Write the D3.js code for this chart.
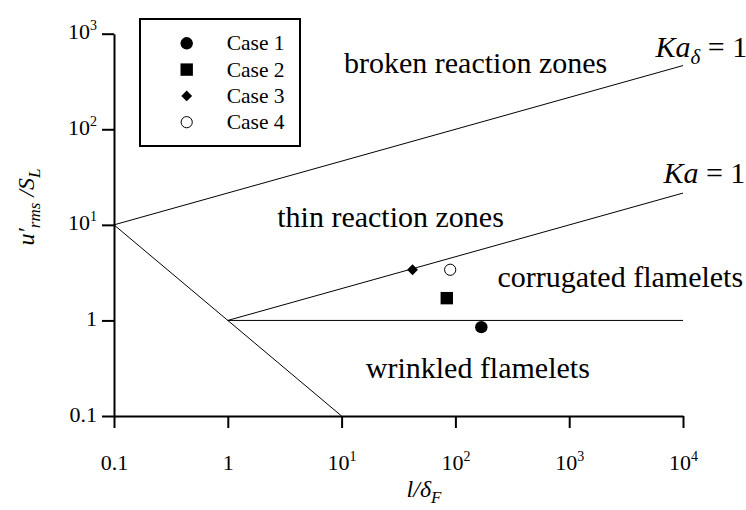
<!DOCTYPE html>
<html>
<head>
<meta charset="utf-8">
<script src="https://cdn.jsdelivr.net/npm/d3@7"></script>
<style>
  body { margin: 0; background: #fff; }
  svg { display: block; font-family: "Liberation Serif", "Times New Roman", serif; }
</style>
</head>
<body>
<div id="chart"></div>
<script>
// tick values
const xTicks = [0.1, 1, 10, 100, 1000, 10000];
const yTicks = [0.1, 1, 10, 100, 1000];

// cases: l/delta_F and u'rms/S_L
const cases = ['Case 1', 'Case 2', 'Case 3', 'Case 4'];
const caseLength = [169, 84, 42, 90];
const caseSpeed = [0.85, 1.71, 3.39, 3.39];
const caseMarker = ['circle', 'square', 'diamond', 'open'];

// regime boundaries (Borghi diagram)
const kaDeltaLine = [[0.1, 10], [10000, 464]];
const kaLine = [[1, 1], [10000, 21.5]];
const reLine = [[0.1, 10], [10, 0.1]];
const unityLine = [[1, 1], [10000, 1]];

// region names and where they sit
const regionNames = ['broken reaction zones', 'thin reaction zones', 'corrugated flamelets', 'wrinkled flamelets'];
const regionX = [10.5, 2.72, 234, 16.3];
const regionY = [390, 9.55, 2.25, 0.252];

const W = 746, H = 510;
const svg = d3.select('#chart').append('svg').attr('width', W).attr('height', H);

const x = d3.scaleLog().domain([0.1, 10000]).range([114, 683]);
const y = d3.scaleLog().domain([0.1, 1000]).range([416, 33.7]);

function tickLabel(sel) {
    sel.each(function (d) {
        const t = d3.select(this);
        t.text(null);
        if (d < 5) {
            t.append('tspan').text(d === 1 ? '1' : '0.1');
        } else {
            t.append('tspan').text('10');
            t.append('tspan').attr('dy', -9).attr('font-size', 14).text(Math.round(Math.log10(d)));
        }
    });
}

const gx = svg.append('g')
    .attr('transform', `translate(0,${y.range()[0]})`)
    .call(d3.axisBottom(x).tickValues(xTicks).tickSize(12).tickSizeOuter(0));
const gy = svg.append('g')
    .attr('transform', `translate(${x.range()[0]},0)`)
    .call(d3.axisLeft(y).tickValues(yTicks).tickSize(12).tickSizeOuter(0));

[gx, gy].forEach(g => {
    g.attr('font-family', null).attr('font-size', 22);
    g.select('.domain').attr('stroke', '#000').attr('stroke-width', 2);
    g.selectAll('.tick line').attr('stroke', '#000').attr('stroke-width', 2);
    g.selectAll('.tick text').attr('fill', '#000').call(tickLabel);
});
gx.selectAll('.tick text').attr('y', 54).attr('dy', 0);
gy.selectAll('.tick text').attr('x', -17).attr('dy', '0.23em');

// boundary lines
const line = d3.line().x(d => x(d[0])).y(d => y(d[1]));
svg.append('g')
    .selectAll('path')
    .data([kaDeltaLine, kaLine, reLine, unityLine])
    .enter()
    .append('path')
    .attr('d', line)
    .attr('fill', 'none')
    .attr('stroke', '#000')
    .attr('stroke-width', 1);

function marker(sel, kind) {
    if (kind === 'circle') {
        sel.append('circle').attr('r', 6.2).attr('fill', '#000');
    } else if (kind === 'open') {
        sel.append('circle').attr('r', 5.6).attr('fill', '#fff').attr('stroke', '#000').attr('stroke-width', 1);
    } else if (kind === 'square') {
        sel.append('rect').attr('x', -6.2).attr('y', -6.2).attr('width', 12.4).attr('height', 12.4).attr('fill', '#000');
    } else {
        sel.append('path').attr('d', 'M0,-5.4L5.4,0L0,5.4L-5.4,0Z').attr('fill', '#000');
    }
}

// data points
cases.forEach((c, i) => {
    const g = svg.append('g').attr('transform', `translate(${x(caseLength[i])},${y(caseSpeed[i])})`);
    marker(g, caseMarker[i]);
});

// region labels
svg.append('g')
    .selectAll('text')
    .data(regionNames)
    .enter()
    .append('text')
    .attr('x', (d, i) => x(regionX[i]))
    .attr('y', (d, i) => y(regionY[i]))
    .attr('font-size', 30)
    .attr('fill', '#000')
    .text(d => d);

// Ka labels
const kaDelta = svg.append('text').attr('x', x(5730)).attr('y', y(573)).attr('font-size', 30);
kaDelta.append('tspan').attr('font-style', 'italic').text('Ka');
kaDelta.append('tspan').attr('font-style', 'italic').attr('font-size', 21).attr('dy', 7).text('δ');
kaDelta.append('tspan').attr('dy', -7).text(' = 1');

const ka = svg.append('text').attr('x', x(6730)).attr('y', y(27.5)).attr('font-size', 30);
ka.append('tspan').attr('font-style', 'italic').text('Ka');
ka.append('tspan').text(' = 1');

// legend
const legend = svg.append('g');
legend.append('rect')
    .attr('x', 140).attr('y', 19).attr('width', 160).attr('height', 127)
    .attr('fill', '#fff').attr('stroke', '#000').attr('stroke-width', 2);
cases.forEach((c, i) => {
    const row = legend.append('g').attr('transform', `translate(186.7,${43.3 + i * 26.3})`);
    marker(row, caseMarker[i]);
    row.append('text').attr('x', 40).attr('y', 7).attr('font-size', 21.5).text(c);
});

// axis titles
const xt = svg.append('text')
    .attr('x', 424).attr('y', 497)
    .attr('text-anchor', 'middle')
    .attr('font-size', 24)
    .attr('font-style', 'italic');
xt.append('tspan').text('l/δ');
xt.append('tspan').attr('font-size', 17).attr('dy', 6).text('F');

const yt = svg.append('text')
    .attr('transform', 'translate(34,207) rotate(-90)')
    .attr('text-anchor', 'middle')
    .attr('font-size', 24)
    .attr('font-style', 'italic');
yt.append('tspan').text('u′');
yt.append('tspan').attr('font-size', 17).attr('dy', 6).text('rms');
yt.append('tspan').attr('dy', -6).text(' /S');
yt.append('tspan').attr('font-size', 17).attr('dy', 6).text('L');
</script>
</body>
</html>
